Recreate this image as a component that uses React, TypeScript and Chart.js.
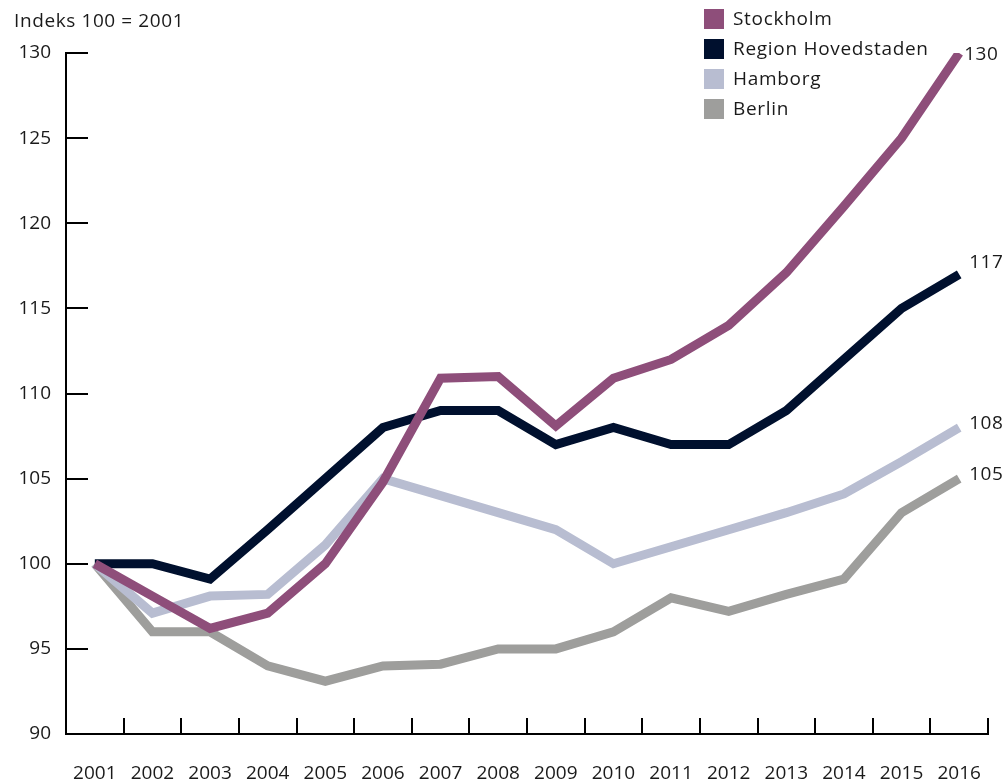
import React, { useEffect, useRef } from "react";
import { Chart, registerables } from "chart.js";

Chart.register(...registerables);

const years = ["2001","2002","2003","2004","2005","2006","2007","2008","2009","2010","2011","2012","2013","2014","2015","2016"];
const stockholm = [100, 98.1, 96.2, 97.1, 100, 104.8, 110.9, 111, 108.1, 110.9, 112, 114, 117.1, 121, 125, 130];
const hovedstaden = [100, 100, 99.1, 102, 105, 108, 109, 109, 107, 108, 107, 107, 109, 112, 115, 117];
const hamborg = [100, 97.1, 98.1, 98.2, 101.1, 105, 104, 103, 102, 100, 101, 102, 103, 104.1, 106, 108];
const berlin = [100, 96, 96, 94, 93.1, 94, 94.1, 95, 95, 96, 98, 97.2, 98.2, 99.1, 103, 105];
const seriesNames = ["Stockholm", "Region Hovedstaden", "Hamborg", "Berlin"];
const endLabels = ["130", "117", "108", "105"];
const yTitle = "Indeks 100 = 2001";

const colors = ["#8E4E7A", "#00102E", "#B8BDD1", "#9E9E9C"];
const endLabelDx = [5, 10, 10, 10];
const endLabelDy = [2, -12, -4, -4];
const FONT = "'Open Sans', sans-serif";
const TEXT = "#1a1a1a";

export default function App() {
  const ref = useRef<HTMLCanvasElement | null>(null);
  useEffect(() => {
    const canvas = ref.current;
    if (!canvas) return;
    const allSeries = [stockholm, hovedstaden, hamborg, berlin];
    const overlay = {
      id: "overlay",
      afterDraw(chart: any) {
        const ctx = chart.ctx;
        const xs = chart.scales.x;
        const ys = chart.scales.y;
        const area = chart.chartArea;
        ctx.save();
        ctx.strokeStyle = "#000";
        ctx.lineWidth = 2;
        ys.ticks.forEach((t: any) => {
          const y = Math.round(ys.getPixelForValue(t.value));
          ctx.beginPath();
          ctx.moveTo(area.left, y);
          ctx.lineTo(area.left + 22, y);
          ctx.stroke();
        });
        for (let i = 1; i <= years.length; i++) {
          const x = Math.round(xs.getPixelForValue(i - 0.5));
          ctx.beginPath();
          ctx.moveTo(x, area.bottom);
          ctx.lineTo(x, area.bottom - 16);
          ctx.stroke();
        }
        ctx.fillStyle = TEXT;
        ctx.font = `19px ${FONT}`;
        ctx.textAlign = "left";
        ctx.textBaseline = "middle";
        (ctx as any).letterSpacing = "0.6px";
        ctx.fillText(yTitle, 14, 22);
        (ctx as any).letterSpacing = "0.7px";
        seriesNames.forEach((name, i) => {
          const cy = 19 + i * 30;
          ctx.fillStyle = colors[i];
          ctx.fillRect(704, cy - 10, 20, 20);
          ctx.fillStyle = TEXT;
          ctx.fillText(name, 733, cy + 1);
        });
        (ctx as any).letterSpacing = "0.5px";
        allSeries.forEach((arr, i) => {
          const last = arr.length - 1;
          const px = xs.getPixelForValue(last);
          const py = ys.getPixelForValue(arr[last]);
          ctx.fillStyle = TEXT;
          ctx.fillText(endLabels[i], px + endLabelDx[i], py + endLabelDy[i]);
        });
        (ctx as any).letterSpacing = "0px";
        ctx.restore();
      },
    };
    const chart = new Chart(canvas, {
      type: "line",
      data: {
        labels: years,
        datasets: allSeries.map((arr, i) => ({
          label: seriesNames[i],
          data: arr,
          borderColor: colors[i],
          backgroundColor: colors[i],
          borderWidth: 9,
          pointRadius: 0,
          tension: 0,
          borderJoinStyle: "miter" as const,
          borderCapStyle: "butt" as const,
          fill: false,
        })),
      },
      options: {
        animation: false,
        responsive: false,
        maintainAspectRatio: false,
        layout: { padding: { top: 53, right: 14, left: 0, bottom: 0 } },
        plugins: { legend: { display: false }, tooltip: { enabled: false } },
        scales: {
          x: {
            type: "category",
            offset: true,
            grid: { display: false, drawTicks: false, offset: true },
            border: { display: true, color: "#000", width: 2 },
            ticks: { color: TEXT, font: { family: FONT, size: 19 }, padding: 28, maxRotation: 0, autoSkip: false },
            afterFit: (s: any) => { s.height = 48; s.paddingLeft = 0; s.paddingRight = 0; },
          },
          y: {
            min: 90,
            max: 130,
            grid: { display: false, drawTicks: false },
            border: { display: true, color: "#000", width: 2 },
            ticks: { stepSize: 5, color: TEXT, font: { family: FONT, size: 19 }, padding: 15, crossAlign: "near" },
            afterFit: (s: any) => { s.width = 66; },
          },
        },
      },
      plugins: [overlay],
    });
    return () => chart.destroy();
  }, []);
  return (
    <div style={{ position: "absolute", left: 0, top: 0, width: 1002, height: 782, background: "#fff" }}>
      <canvas ref={ref} width={1002} height={782} style={{ display: "block" }} />
    </div>
  );
}
